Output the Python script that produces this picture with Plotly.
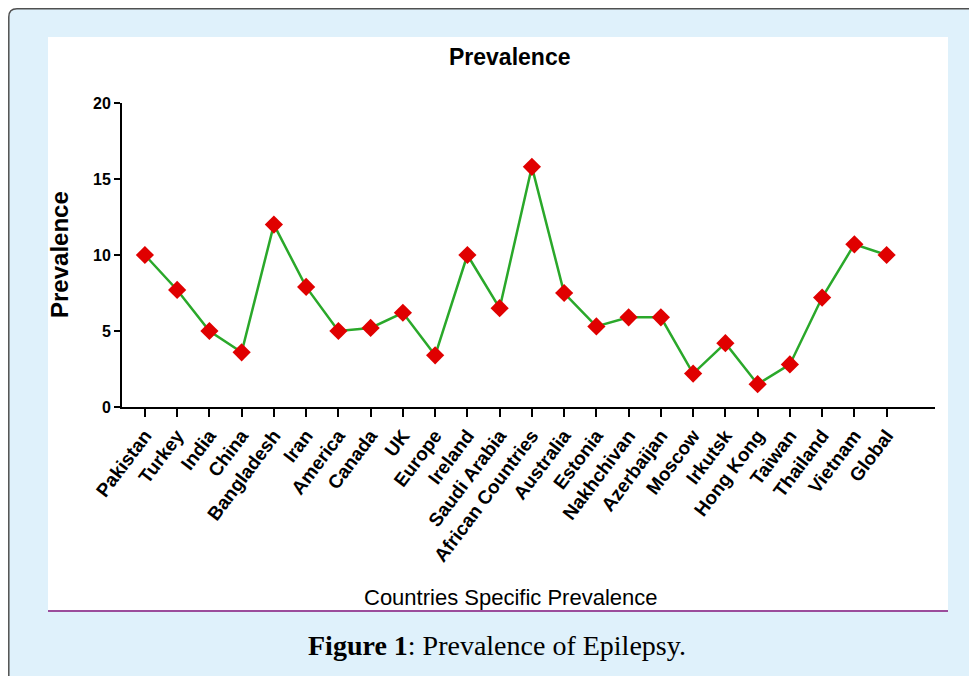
import plotly.graph_objects as go

countries = ["Pakistan", "Turkey", "India", "China", "Bangladesh", "Iran", "America",
             "Canada", "UK", "Europe", "Ireland", "Saudi Arabia", "African Countries",
             "Australia", "Estonia", "Nakhchivan", "Azerbaijan", "Moscow", "Irkutsk",
             "Hong Kong", "Taiwan", "Thailand", "Vietnam", "Global"]
prevalence = [10.0, 7.7, 5.0, 3.6, 12.0, 7.9, 5.0, 5.2, 6.2, 3.4, 10.0, 6.5, 15.8,
              7.5, 5.3, 5.9, 5.9, 2.2, 4.2, 1.5, 2.8, 7.2, 10.7, 10.0]
y_ticks = [0, 5, 10, 15, 20]

OFF = 8  # page body margin
W, H = 977 - OFF, 676 - OFF


def px(x):
    return (x - OFF) / W


def py(y):
    return 1 - (y - OFF) / H


fig = go.Figure()
fig.add_trace(go.Scatter(
    x=countries, y=prevalence, mode="lines+markers",
    line=dict(color="#2aa82a", width=2.5),
    marker=dict(symbol="diamond", size=14, color="#e00000", line=dict(width=0)),
    cliponaxis=False, showlegend=False,
))

SANS = "Liberation Sans, Arial, sans-serif"

fig.update_layout(
    width=W, height=H,
    margin=dict(l=0, r=0, t=0, b=0),
    paper_bgcolor="white",
    plot_bgcolor="rgba(0,0,0,0)",
    xaxis=dict(
        domain=[px(122), px(935)],
        range=[-0.71, 24.5],
        type="category",
        showgrid=False, zeroline=False,
        showline=True, linecolor="black", linewidth=2,
        ticks="outside", ticklen=8, tickwidth=2, tickcolor="black",
        tickangle=-53,
        tickfont=dict(family=SANS, size=19, color="black", weight="bold"),
        automargin=False,
    ),
    yaxis=dict(
        domain=[py(407), py(103)],
        range=[0, 20],
        tickvals=y_ticks,
        showgrid=False, zeroline=False,
        showline=True, linecolor="black", linewidth=2,
        ticks="outside", ticklen=6, tickwidth=2, tickcolor="black",
        tickfont=dict(family=SANS, size=16, color="black", weight="bold"),
        automargin=False,
    ),
    shapes=[
        dict(type="path", xref="paper", yref="paper", layer="below",
             path=f"M {px(8.8)},{py(700)} L {px(8.8)},{py(17)} Q {px(8.8)},{py(8.8)} {px(17)},{py(8.8)} "
                  f"L {px(1000)},{py(8.8)} L {px(1000)},{py(700)} Z",
             fillcolor="#dff1fb", line=dict(color="#505050", width=1.5)),
        dict(type="rect", xref="paper", yref="paper", layer="below",
             x0=px(48), x1=px(948), y0=py(611), y1=py(37),
             fillcolor="white", line=dict(width=0)),
        dict(type="line", xref="paper", yref="paper", layer="below",
             x0=px(48), x1=px(948), y0=py(611), y1=py(611),
             line=dict(color="#9b4d9b", width=2)),
    ],
    annotations=[
        dict(text="<b>Prevalence</b>", x=px(509), y=py(57), xref="paper", yref="paper",
             showarrow=False, xanchor="center", yanchor="middle",
             font=dict(family=SANS, size=23, color="black")),
        dict(text="<b>Prevalence</b>", x=px(59), y=py(255), xref="paper", yref="paper",
             showarrow=False, xanchor="center", yanchor="middle", textangle=-90,
             font=dict(family=SANS, size=24, color="black")),
        dict(text="Countries Specific Prevalence", x=px(511), y=py(597), xref="paper", yref="paper",
             showarrow=False, xanchor="center", yanchor="middle",
             font=dict(family=SANS, size=22, color="black")),
        dict(text="<b>Figure 1</b>: Prevalence of Epilepsy.", x=px(497), y=py(645),
             xref="paper", yref="paper", showarrow=False, xanchor="center", yanchor="middle",
             font=dict(family="Liberation Serif, Times New Roman, serif", size=28, color="black")),
    ],
)

fig.write_html("out.html")
